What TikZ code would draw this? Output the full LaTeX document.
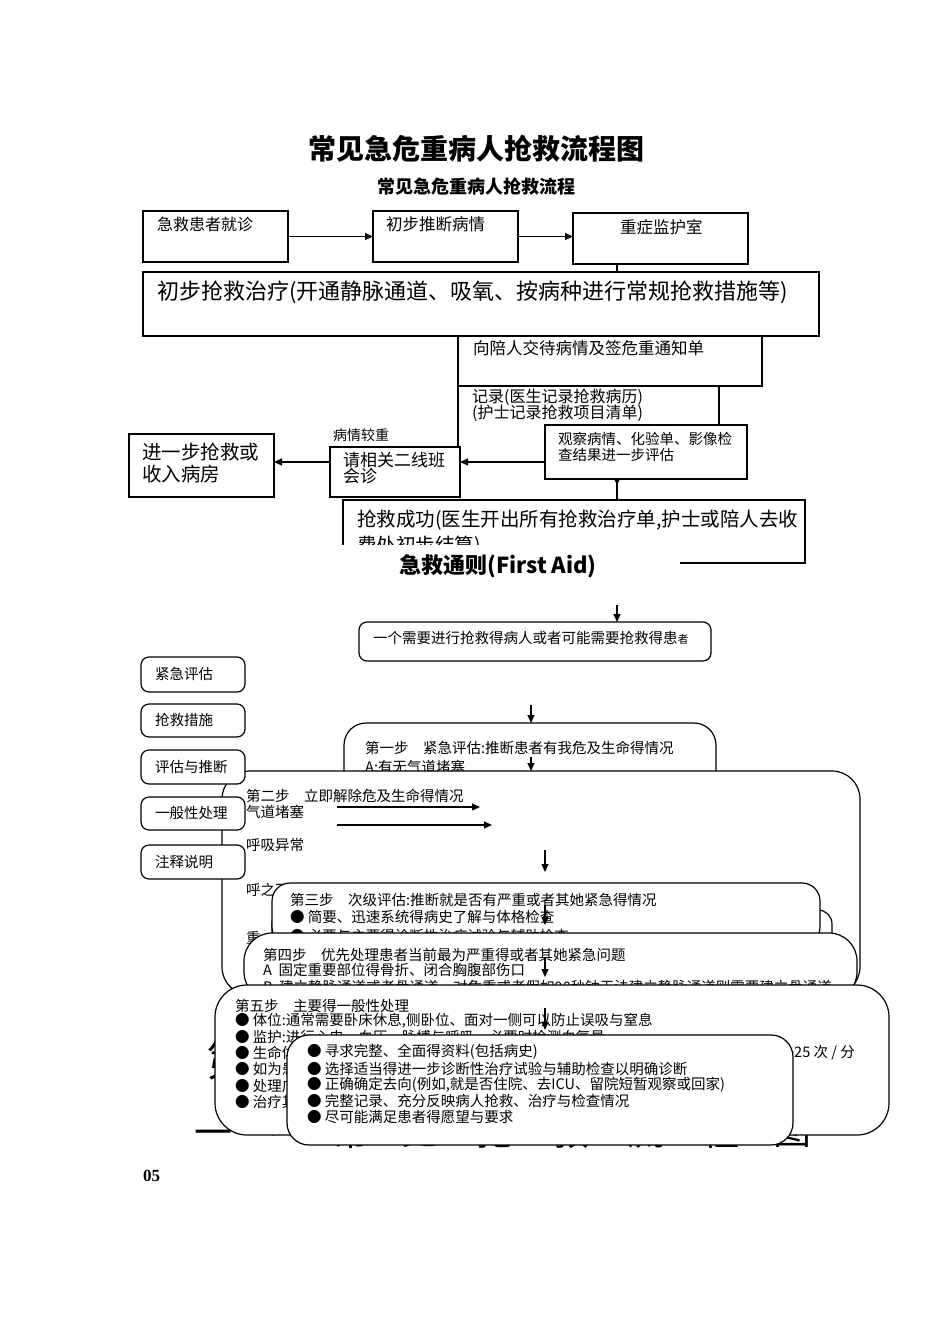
\documentclass[tikz,border=0pt]{standalone}
\usepackage{fontspec}
\setmainfont{Noto Sans CJK SC}
\newfontfamily\numfont{Liberation Serif}
\usetikzlibrary{arrows.meta}
\newcommand\mybox[6][]{\node[box,#1,minimum width={#4-#2},minimum height={#5-#3}] (#6) at (#2,#3) {};}
\newcommand\tl[6][]{\node[tx,#1,font=\fontsize{#5}{#5}\selectfont] (#2) at (#3,#4) {#6};}
\begin{document}
\begin{tikzpicture}[x=1pt,y=-1pt,
  box/.style={draw, line width=1.2pt, fill=white, inner sep=0pt, outer sep=0pt, anchor=north west},
  tx/.style={inner sep=0pt, anchor=west},
  arr/.style={line width=1.1pt, -{Triangle[length=8pt,width=7pt]}},
  ln/.style={line width=1.1pt}]
\useasboundingbox (0,0) rectangle (950,1344);
\fill[white] (0,0) rectangle (950,1344);

% background large text (mostly hidden)
\node[tx, font=\fontsize{44}{44}\selectfont] (bgdi) at (206,1060) {第};
\node[font=\fontsize{38}{38}\selectfont] (bg1) at (213,1138) {一};
\foreach \c/\x [count=\i] in {、/282,常/350,见/420,抢/495,救/570,流/645,程/720,图/792}
  \node[font=\fontsize{38}{38}\selectfont] (bgr\i) at (\x,1131) {\c};

% ---------- top flow ----------
\node[font=\fontsize{28}{28}\selectfont\bfseries] (title) at (476,149) {常见急危重病人抢救流程图};
\node[font=\fontsize{18}{18}\selectfont\bfseries] (subtitle) at (476,187) {常见急危重病人抢救流程};

\coordinate (colx) at (617,0);
\coordinate (rowy) at (0,462);
\coordinate (c6r) at (719,386);

\mybox{143}{211}{288}{262}{b1}
\mybox{373}{211}{518}{262}{b2}
\mybox{573}{213}{748}{264}{b3}
\mybox{143}{272}{819}{336}{b4}
\mybox{458}{336}{762}{386}{b5}
\mybox{545}{425}{747}{479}{b7}
\mybox{330}{447}{460}{497}{b8}
\mybox{129}{434}{274}{497}{b9}
\mybox{343}{500}{805}{563}{b10}

\draw[arr] (b1.east) -- (b1.east -| b2.west);
\draw[arr] (b2.east) -- (b2.east -| b3.west);
\draw[ln] (b3.south -| colx) -- (b4.north -| colx);
\draw[ln] (b5.south west) -- (b5.south west |- b8.north);
\draw[ln] (c6r) -- (c6r |- b7.north);
\draw[arr] (b7.west |- rowy) -- (b8.east |- rowy);
\draw[arr] (b8.west |- rowy) -- (b9.east |- rowy);
\draw[ln] (b7.south -| colx) -- (b10.north -| colx);
\fill (b7.south -| colx) ++(-3,0) -- ++(6,0) -- ++(-3,6) -- cycle;

\tl{t1}{157}{224}{16}{急救患者就诊}
\tl{t2}{386}{224}{16.5}{初步推断病情}
\tl{t3}{620}{227}{16.5}{重症监护室}
\tl{t4}{157}{292}{22}{初步抢救治疗(开通静脉通道、吸氧、按病种进行常规抢救措施等)}
\tl{t5}{473}{348}{16.5}{向陪人交待病情及签危重通知单}
\tl{t6a}{472}{397}{16}{记录(医生记录抢救病历)}
\tl{t6b}{472}{413}{16}{(护士记录抢救项目清单)}
\tl{t7a}{558}{439}{14.5}{观察病情、化验单、影像检}
\tl{t7b}{558}{455}{14.5}{查结果进一步评估}
\tl{t8c}{333}{435}{14}{病情较重}
\tl{t8a}{343}{460}{17}{请相关二线班}
\tl{t8b}{343}{476}{17}{会诊}
\tl{t9a}{142}{452}{19.5}{进一步抢救或}
\tl{t9b}{142}{474}{19.5}{收入病房}
\tl{t10a}{357}{520}{19.5}{抢救成功(医生开出所有抢救治疗单,护士或陪人去收}
\tl{t10b}{357}{546}{19.5}{费处初步结算)}

\node[fill=white, inner sep=0pt, anchor=north west, minimum width=380, minimum height=47] (mask) at (300,545) {};
\node[font=\fontsize{22}{22}\selectfont\bfseries] (fa) at (498,566) {急救通则(First Aid)};

% ---------- first aid flow ----------
\coordinate (a0) at (617,605);
\coordinate (a1) at (531,705);
\coordinate (a2) at (531,757);
\coordinate (a3) at (545,850);
\coordinate (a4) at (545,905);
\coordinate (a5) at (545,957);
\coordinate (a6) at (545,1008);

\mybox[rounded corners=8pt]{359}{622}{711}{661}{n1}
\draw[arr] (a0) -- (a0 |- n1.north);
\node[tx,font=\fontsize{14.5}{14.5}\selectfont] (tn1) at (373,638) {一个需要进行抢救得病人或者可能需要抢救得患{\fontsize{11}{11}\selectfont 者}};

\mybox[rounded corners=22pt]{344}{723}{716}{805}{s1}
\draw[arr] (a1) -- (a1 |- s1.north);
\tl{ts1a}{365}{748}{14.5}{第一步　紧急评估:推断患者有我危及生命得情况}
\tl{ts1b}{365}{767}{14.5}{A:有无气道堵塞}

\mybox[rounded corners=28pt]{222}{771}{860}{995}{s2}
\draw[arr] (a2) -- (a2 |- s2.north);
\tl{ts2a}{246}{796}{14.5}{第二步　立即解除危及生命得情况}
\tl{ts2b}{246}{812}{14.5}{气道堵塞}
\tl{ts2c}{246}{845}{14.5}{呼吸异常}
\tl{ts2d}{246}{890}{14.5}{呼之不应}
\tl{ts2e}{246}{938}{14.5}{重}
\coordinate (ar1) at (337,807);
\coordinate (ar2) at (337,825);
\draw[arr] (ar1) -- ++(143,0);
\draw[arr] (ar2) -- ++(155,0);
\draw[arr] (a3) -- ++(0,22);

\mybox[rounded corners=8pt]{141}{657}{245}{692}{l1}
\mybox[rounded corners=8pt]{141}{704}{245}{737}{l2}
\mybox[rounded corners=8pt]{141}{750}{245}{784}{l3}
\mybox[rounded corners=8pt]{141}{797}{245}{830}{l4}
\mybox[rounded corners=8pt]{141}{845}{245}{879}{l5}
\tl{tl1}{155}{674}{14.5}{紧急评估}
\tl{tl2}{155}{720}{14.5}{抢救措施}
\tl{tl3}{155}{767}{14.5}{评估与推断}
\tl{tl4}{155}{813}{14.5}{一般性处理}
\tl{tl5}{155}{862}{14.5}{注释说明}

\mybox[rounded corners=14pt]{272}{910}{832}{960}{s3b}
\mybox[rounded corners=18pt]{272}{883}{820}{945}{s3}
\tl{ts3a}{290}{900}{14.5}{第三步　次级评估:推断就是否有严重或者其她紧急得情况}
\tl{ts3b}{290}{917}{14.5}{● 简要、迅速系统得病史了解与体格检查}
\tl{ts3c}{290}{936}{14.5}{● 必要与主要得诊断性治疗试验与辅助检查}
\draw[arr] (a4) -- ++(0,20);

\mybox[rounded corners=28pt]{244}{933}{857}{1000}{s4}
\tl{ts4a}{263}{955}{14.5}{第四步　优先处理患者当前最为严重得或者其她紧急问题}
\tl{ts4b}{263}{970}{14.5}{A\ \ 固定重要部位得骨折、闭合胸腹部伤口}
\tl{ts4c}{263}{987}{14.5}{B\ \ 建立静脉通道或者骨通道，对危重或者假如90秒钟无法建立静脉通道则需要建立骨通道}
\draw[arr] (a5) -- ++(0,20);

\mybox[rounded corners=32pt]{215}{985}{889}{1135}{s5}
\tl{ts5a}{235}{1006}{14.5}{第五步　主要得一般性处理}
\tl{ts5b}{235}{1021}{14.5}{● 体位:通常需要卧床休息,侧卧位、面对一侧可以防止误吸与窒息}
\tl{ts5c}{235}{1037}{14.5}{● 监护:进行心电、血压、脉搏与呼吸，必要时检测血氧量}
\tl{ts5d}{235}{1053}{14.5}{● 生命体征}
\tl{ts5e}{235}{1069}{14.5}{● 如为患者}
\tl{ts5f}{235}{1086}{14.5}{● 处理广泛}
\tl{ts5g}{235}{1102}{14.5}{● 治疗其她}
\tl{ts5h}{789}{1053}{14.5}{-25 次 / 分}
\draw[arr] (a6) -- ++(0,22);

\mybox[rounded corners=22pt]{287}{1035}{793}{1145}{s6}
\tl{ts6a}{307}{1052}{14.5}{● 寻求完整、全面得资料(包括病史)}
\tl{ts6b}{307}{1069}{14.5}{● 选择适当得进一步诊断性治疗试验与辅助检查以明确诊断}
\tl{ts6c}{307}{1085}{14.5}{● 正确确定去向(例如,就是否住院、去ICU、留院短暂观察或回家)}
\tl{ts6d}{307}{1101}{14.5}{● 完整记录、充分反映病人抢救、治疗与检查情况}
\tl{ts6e}{307}{1117}{14.5}{● 尽可能满足患者得愿望与要求}

\node[tx, font=\numfont\bfseries\fontsize{17}{17}\selectfont] (pg) at (143,1176) {05};
\end{tikzpicture}
\end{document}
